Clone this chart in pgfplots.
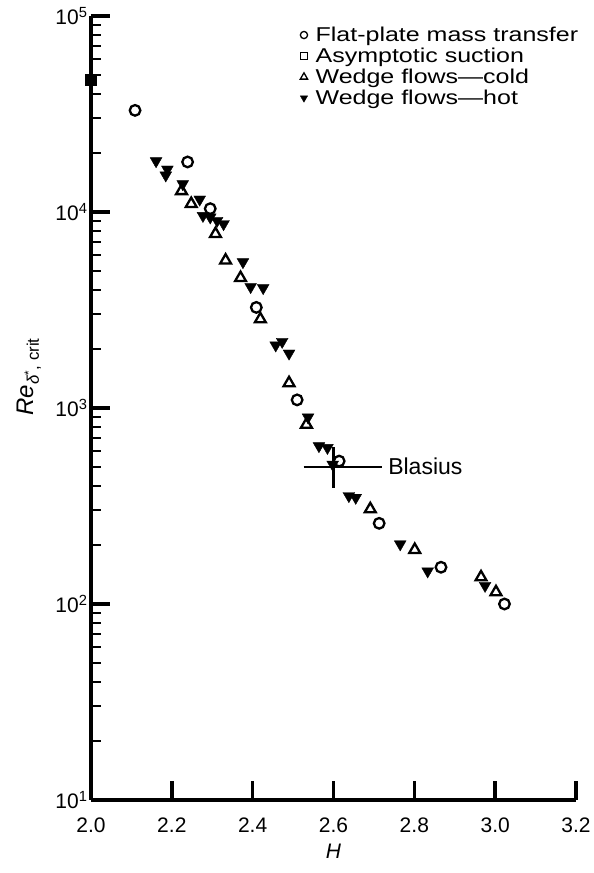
\documentclass[border=0pt]{standalone}
\usepackage{fontspec}
\setmainfont{Liberation Sans}
\newfontfamily\widefont[FakeStretch=1.25]{Liberation Sans}
\usepackage{pgfplots}
\usepackage{pgfplotstable}
\pgfplotsset{compat=1.18}

% Critical Reynolds number vs. shape factor H
\pgfplotstableread{
H Re
2.109 33000
2.239 18000
2.295 10400
2.409 3260
2.510 1100
2.614 536
2.713 258
2.866 154
3.023 100
}\flatplate

\pgfplotstableread{
H Re
2.000 47300
}\suction

\pgfplotstableread{
H Re
2.224 12800
2.248 11000
2.308 7730
2.333 5660
2.370 4610
2.419 2840
2.490 1340
2.533 823
2.691 305
2.801 189
2.965 137
3.002 115
}\wedgecold

\pgfplotstableread{
H Re
2.161 18200
2.189 16500
2.185 15400
2.227 13900
2.269 11600
2.277 9570
2.295 9400
2.312 9030
2.328 8690
2.376 5560
2.395 4150
2.426 4100
2.457 2090
2.473 2180
2.490 1900
2.537 897
2.564 640
2.585 627
2.598 515
2.638 356
2.655 349
2.765 202
2.833 147
2.975 124
}\wedgehot

\begin{document}
\begin{tikzpicture}
\begin{axis}[
  scale only axis,
  width=485pt, height=784pt,
  ymode=log,
  xmin=2.0, xmax=3.2,
  ymin=10, ymax=100000,
  clip=false,
  axis lines=left,
  axis line style={-, line width=4.5pt},
  tick align=inside,
  xtick={2.0,2.2,2.4,2.6,2.8,3.0,3.2},
  xticklabels={2.0,2.2,2.4,2.6,2.8,3.0,3.2},
  ytick={10,100,1000,10000,100000},
  yticklabels={10\textsuperscript{1},10\textsuperscript{2},10\textsuperscript{3},10\textsuperscript{4},10\textsuperscript{5}},
  major tick length=19pt,
  minor tick length=10pt,
  major tick style={line width=3.5pt, black},
  minor tick style={line width=2pt, black},
  tick label style={font=\fontsize{21}{23}\selectfont},
  xticklabel style={yshift=-14pt},
  xlabel={\textit{H}},
  xlabel style={at={(axis description cs:0.5,-0.066)}, anchor=center, font=\fontsize{21}{23}\selectfont},
  ylabel={\textit{Re}\textsubscript{\textit{δ}\textsuperscript{*}, crit}},
  ylabel style={at={(axis description cs:-0.128,0.54)}, anchor=center, font=\fontsize{24}{26}\selectfont},
  legend style={
    at={(rel axis cs:0.425,0.99)}, anchor=north west,
    draw=none, fill=none,
    font=\widefont\fontsize{20}{21}\selectfont,
    row sep=3pt,
    column sep=7pt,
    nodes={inner sep=1pt},
  },
  legend cell align=left,
]
\coordinate (sw) at (rel axis cs:0,0);
\coordinate (ne) at (rel axis cs:1,1);

% legend symbols
\addlegendimage{only marks, mark=o, mark size=3.6pt, line width=1.3pt}
\addlegendimage{only marks, mark=square, mark size=3.4pt, line width=1.3pt}
\addlegendimage{only marks, mark=triangle, mark size=4.2pt, line width=1.3pt}
\addlegendimage{only marks, mark=triangle*, mark size=4.2pt, mark options={rotate=180, fill=black}}

% Blasius cross
\addplot[forget plot, black, line width=2.2pt] coordinates {(2.526,502) (2.720,502)};
\addplot[forget plot, black, line width=2.2pt] coordinates {(2.600,393) (2.600,634)};
\node[anchor=west, font=\fontsize{23}{25}\selectfont, inner sep=0pt] at (axis cs:2.735,505) {Blasius};

% data
\addplot[forget plot, only marks, mark=o, mark size=5.3pt, line width=2.3pt, black] table[x=H, y=Re] {\flatplate};
\addplot[forget plot, only marks, mark=square*, mark size=5.5pt, black] table[x=H, y=Re] {\suction};
\addplot[forget plot, only marks, mark=triangle, mark size=6.3pt, line width=2.3pt, black] table[x=H, y=Re] {\wedgecold};
\addplot[forget plot, only marks, mark=triangle*, mark size=6.8pt, black, mark options={rotate=180, fill=black}] table[x=H, y=Re] {\wedgehot};

\legend{Flat-plate mass transfer, Asymptotic suction, Wedge flows—cold, Wedge flows—hot}
\end{axis}
\pgfresetboundingbox
\path[use as bounding box] ([xshift=-91pt,yshift=-73pt]sw) rectangle ([xshift=17pt,yshift=16pt]ne);
\end{tikzpicture}
\end{document}
